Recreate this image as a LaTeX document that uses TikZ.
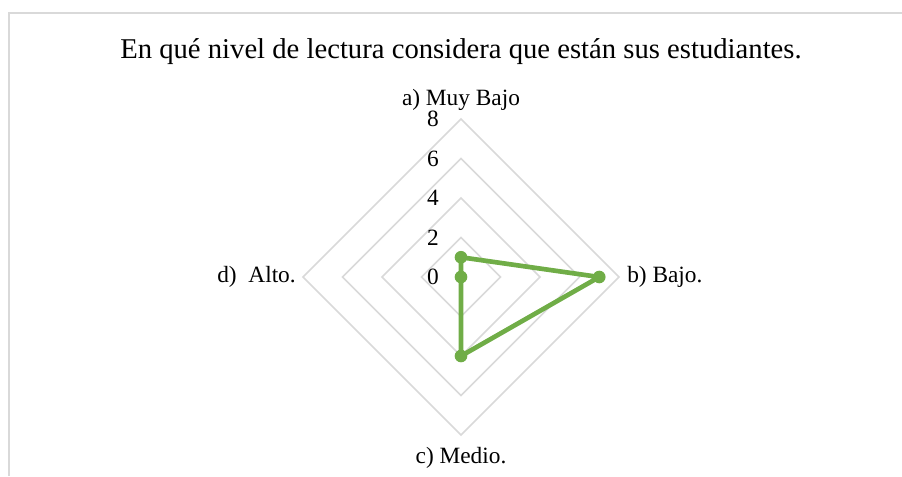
\documentclass[tikz,border=0pt]{standalone}
\usepackage{fontspec}
\setmainfont{Liberation Serif}
\usetikzlibrary{calc}
\definecolor{gridgray}{HTML}{D9D9D9}
\definecolor{sergreen}{HTML}{70AD47}
\begin{document}
\begin{tikzpicture}[x=0.75pt,y=-0.75pt,
  gridline/.style={draw=gridgray,line width=1.1pt},
  serline/.style={draw=sergreen,line width=3.5pt,line join=round},
  marker/.style={circle,fill=sergreen,inner sep=0pt,minimum size=9.5pt},
  axlabel/.style={font=\fontsize{17.5}{20}\selectfont,inner sep=0pt},
  ticklabel/.style={font=\fontsize{17.5}{20}\selectfont,inner sep=0pt,anchor=east}]
\useasboundingbox (0,0) rectangle (902,476);
\draw[gridline] (9,476) -- (9,13) -- (902,13);
\node[font=\fontsize{21.5}{25}\selectfont] (title) at (461,52) {En qué nivel de lectura considera que están sus estudiantes.};
\coordinate (c) at (461,277);
\foreach \r in {1,2,3,4}{
  \draw[gridline] ($(c)+(0,-39.5*\r)$) -- ($(c)+(39.5*\r,0)$) -- ($(c)+(0,39.5*\r)$) -- ($(c)+(-39.5*\r,0)$) -- cycle;
}
\foreach \v/\r in {0/0,2/1,4/2,6/3,8/4}{
  \node[ticklabel] (t\v) at ($(c)+(-22,-39.5*\r)$) {\v};
}
\node[axlabel] (la) at (461,100) {a) Muy Bajo};
\node[axlabel,anchor=west] (lb) at (627,277) {b) Bajo.};
\node[axlabel] (lc) at (461,458) {c) Medio.};
\node[axlabel,anchor=east] (ld) at (296,277) {d)\ \ Alto.};
\node[marker] (pa) at ($(c)+(0,-19.75)$) {};
\node[marker] (pb) at ($(c)+(138.25,0)$) {};
\node[marker] (pc) at ($(c)+(0,79)$) {};
\node[marker] (pd) at (c) {};
\draw[serline] (pa.center) -- (pb.center) -- (pc.center) -- (pd.center) -- (pa.center);
\end{tikzpicture}
\end{document}
